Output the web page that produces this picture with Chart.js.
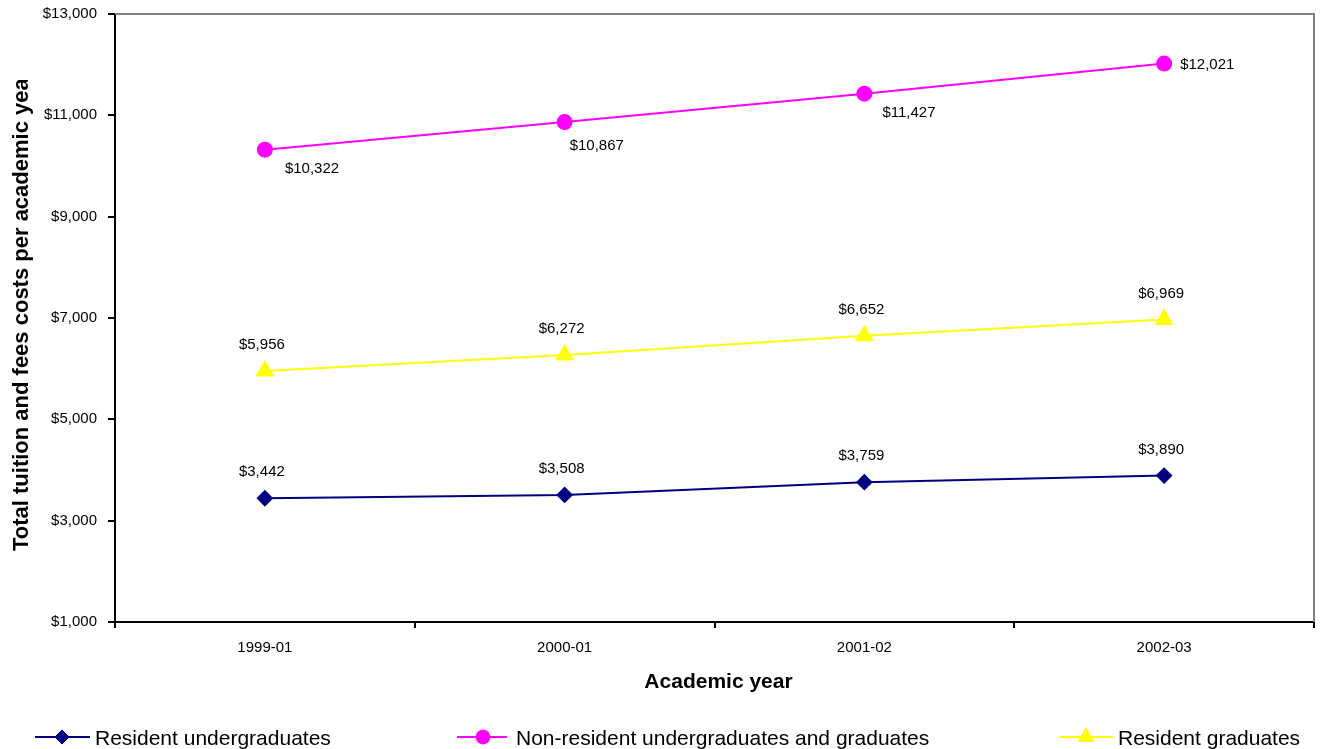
<!DOCTYPE html>
<html><head><meta charset="utf-8">
<script src="https://cdn.jsdelivr.net/npm/chart.js@4/dist/chart.umd.min.js"></script>
<style>html,body{margin:0;padding:0;background:#fff;overflow:hidden}</style>
</head><body>
<canvas id="c" width="1320" height="749"></canvas>
<script>
// ---- data ----
const categories = ['1999-01', '2000-01', '2001-02', '2002-03'];
const residentUndergrad = [3442, 3508, 3759, 3890];
const nonResident = [10322, 10867, 11427, 12021];
const residentGrad = [5956, 6272, 6652, 6969];
const seriesNames = ['Resident undergraduates', 'Non-resident undergraduates and graduates', 'Resident graduates'];
const yMin = 1000, yMax = 13000, yStep = 2000;
const yTitle = 'Total tuition and fees costs per academic year';
const xTitle = 'Academic year';

// ---- styling ----
const FONT = "'Liberation Sans', Arial, Helvetica, sans-serif";
const NAVY = '#000080', MAGENTA = '#FF00FF', YELLOW = '#FFFF00';
const fmt = v => '$' + v.toLocaleString('en-US');

// label placement per dataset (offsets from the drawn point)
const labelPlacement = [
  { align: 'center', offs: [[-3, -26], [-3, -26], [-3, -26], [-3, -26]] },
  { align: 'left',   offs: [[20, 19], [5, 24], [18, 19], [16, 1]] },
  { align: 'center', offs: [[-3, -26], [-3, -26], [-3, -26], [-3, -26]] }
];
const legendLayout = [
  { x1: 35, x2: 90, mx: 62, tx: 95 },
  { x1: 457, x2: 507, mx: 483, tx: 516 },
  { x1: 1059, x2: 1113, mx: 1086, tx: 1118 }
];

function marker(ctx, style, x, y, r, color) {
  ctx.save();
  ctx.fillStyle = color; ctx.strokeStyle = color; ctx.lineWidth = 1;
  ctx.beginPath();
  if (style === 'rectRot') {
    ctx.moveTo(x - r, y); ctx.lineTo(x, y - r); ctx.lineTo(x + r, y); ctx.lineTo(x, y + r); ctx.closePath();
  } else if (style === 'triangle') {
    ctx.moveTo(x, y - r);
    ctx.lineTo(x + Math.sin(2 * Math.PI / 3) * r, y - Math.cos(2 * Math.PI / 3) * r);
    ctx.lineTo(x + Math.sin(4 * Math.PI / 3) * r, y - Math.cos(4 * Math.PI / 3) * r);
    ctx.closePath();
  } else {
    ctx.arc(x, y, r, 0, Math.PI * 2);
  }
  ctx.fill(); ctx.stroke();
  ctx.restore();
}

const decor = {
  id: 'decor',
  beforeDatasetsDraw(chart) {
    const { ctx, chartArea: a } = chart;
    ctx.save();
    ctx.strokeStyle = '#808080'; ctx.lineWidth = 2;
    ctx.beginPath();
    ctx.moveTo(a.left, a.top); ctx.lineTo(a.right, a.top); ctx.lineTo(a.right, a.bottom);
    ctx.stroke();
    ctx.restore();
  },
  afterDatasetsDraw(chart) {
    const ctx = chart.ctx;
    ctx.save();
    ctx.font = '15px ' + FONT;
    ctx.fillStyle = '#000';
    ctx.textBaseline = 'middle';
    chart.data.datasets.forEach((ds, di) => {
      const meta = chart.getDatasetMeta(di);
      const pl = labelPlacement[di];
      ctx.textAlign = pl.align;
      meta.data.forEach((pt, i) => {
        const o = pl.offs[i];
        ctx.fillText(fmt(ds.data[i]), pt.x + o[0], pt.y + o[1]);
      });
    });
    ctx.restore();
  },
  afterDraw(chart) {
    const { ctx, chartArea: a } = chart;
    ctx.save();
    ctx.fillStyle = '#000';
    // x title
    ctx.font = 'bold 21px ' + FONT;
    ctx.textAlign = 'center'; ctx.textBaseline = 'alphabetic';
    ctx.fillText(xTitle, (a.left + a.right) / 2 + 4, 688);
    // y title (clipped like the original)
    ctx.save();
    ctx.beginPath(); ctx.rect(0, 80, 100, 600); ctx.clip();
    ctx.translate(28, 551); ctx.rotate(-Math.PI / 2);
    ctx.font = 'bold 22px ' + FONT;
    ctx.textAlign = 'left';
    ctx.fillText(yTitle, 0, 0);
    ctx.restore();
    // legend
    ctx.font = '21px ' + FONT;
    ctx.textAlign = 'left'; ctx.textBaseline = 'alphabetic';
    chart.data.datasets.forEach((ds, di) => {
      const L = legendLayout[di];
      const ly = 737;
      ctx.strokeStyle = ds.borderColor; ctx.lineWidth = 2;
      ctx.beginPath(); ctx.moveTo(L.x1, ly); ctx.lineTo(L.x2, ly); ctx.stroke();
      marker(ctx, ds.pointStyle, L.mx, ly, ds.pointRadius, ds.borderColor);
      ctx.fillStyle = '#000';
      ctx.fillText(ds.label, L.tx, ly + 7.5);
    });
    ctx.restore();
  }
};

new Chart(document.getElementById('c'), {
  type: 'line',
  data: {
    labels: categories,
    datasets: [
      { label: seriesNames[0], data: residentUndergrad, borderColor: NAVY, backgroundColor: NAVY,
        pointStyle: 'rectRot', pointRadius: 7, pointBackgroundColor: NAVY, pointBorderColor: NAVY, borderWidth: 2, tension: 0 },
      { label: seriesNames[1], data: nonResident, borderColor: MAGENTA, backgroundColor: MAGENTA,
        pointStyle: 'circle', pointRadius: 7, pointBackgroundColor: MAGENTA, pointBorderColor: MAGENTA, borderWidth: 2, tension: 0 },
      { label: seriesNames[2], data: residentGrad, borderColor: YELLOW, backgroundColor: YELLOW,
        pointStyle: 'triangle', pointRadius: 9, pointBackgroundColor: YELLOW, pointBorderColor: YELLOW, borderWidth: 2, tension: 0 }
    ]
  },
  options: {
    responsive: false,
    animation: false,
    devicePixelRatio: 1,
    layout: { autoPadding: false, padding: { top: 14, right: 6, left: 0, bottom: 0 } },
    plugins: { legend: { display: false }, tooltip: { enabled: false } },
    scales: {
      x: {
        type: 'category',
        offset: true,
        grid: { offset: true, drawOnChartArea: false, drawTicks: true, tickLength: 6, color: '#000', lineWidth: 2 },
        border: { display: true, color: '#000', width: 2 },
        ticks: { font: { family: FONT, size: 15 }, color: '#000', padding: 11, maxRotation: 0 },
        afterFit(s) { s.height = 127; s.paddingLeft = 0; s.paddingRight = 0; }
      },
      y: {
        min: yMin, max: yMax,
        grid: { drawOnChartArea: false, drawTicks: true, tickLength: 7, color: '#000', lineWidth: 2 },
        border: { display: true, color: '#000', width: 2 },
        ticks: { stepSize: yStep, font: { family: FONT, size: 15 }, color: '#000', padding: 11, callback: v => fmt(v) },
        afterFit(s) { s.width = 115; s.paddingTop = 0; s.paddingBottom = 0; }
      }
    }
  },
  plugins: [decor]
});
</script>
</body></html>
